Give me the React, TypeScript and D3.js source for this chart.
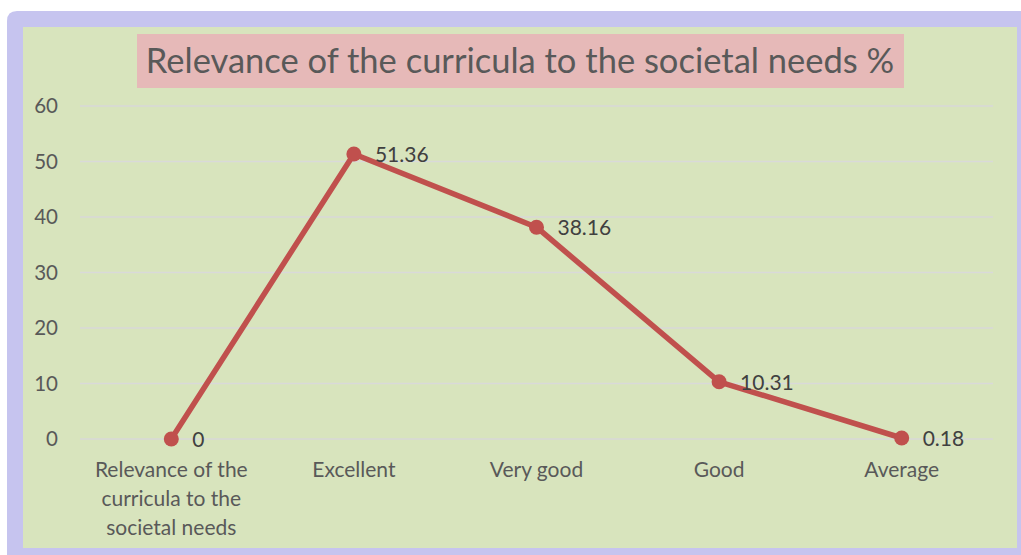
import React from "react";
import * as d3 from "d3";

const categories: string[][] = [
  ["Relevance of the", "curricula to the", "societal needs"],
  ["Excellent"],
  ["Very good"],
  ["Good"],
  ["Average"],
];
const values: number[] = [0, 51.36, 38.16, 10.31, 0.18];
const labels: string[] = ["0", "51.36", "38.16", "10.31", "0.18"];
const yTicks: number[] = [0, 10, 20, 30, 40, 50, 60];
const title = "Relevance of the curricula to the societal needs %";

export default function App() {
  const W = 1021, H = 555;
  const left = 80, right = 993, top = 106, bottom = 439;
  const x = d3.scaleBand<number>().domain(d3.range(values.length)).range([left, right]);
  const y = d3.scaleLinear().domain([0, 60]).range([bottom, top]);
  const line = d3.line<number>().x((_, i) => x(i)! + x.bandwidth() / 2).y((d) => y(d));
  const font = "Lato, 'Open Sans', sans-serif";
  return (
    <svg width={W} height={H} style={{ position: "absolute", left: 0, top: 0 }} fontFamily={font}>
      <path d={`M7,${H} V21 Q7,11 17,11 H${W} V${H} Z`} fill="#C6C4EF" />
      <rect x={23} y={27} width={994} height={521} fill="#D8E4BD" />
      <rect x={137} y={34} width={767} height={54} fill="#E6B9B8" />
      <text x={520} y={73} textAnchor="middle" fontSize={34.5} fill="#595959">{title}</text>
      {yTicks.map((t) => (
        <g key={t}>
          <line x1={left} x2={right} y1={y(t)} y2={y(t)} stroke="#D9D9D9" strokeWidth={1.5} />
          <text x={58} y={y(t) + 7} textAnchor="end" fontSize={20.5} fill="#595959">{t}</text>
        </g>
      ))}
      {categories.map((c, i) => (
        <text key={i} textAnchor="middle" fontSize={21} fill="#595959">
          {c.map((l, j) => (
            <tspan key={j} x={x(i)! + x.bandwidth() / 2} y={477 + j * 29}>{l}</tspan>
          ))}
        </text>
      ))}
      <path d={line(values)!} fill="none" stroke="#C0504D" strokeWidth={5.5} strokeLinejoin="round" />
      {values.map((v, i) => (
        <g key={i}>
          <circle cx={x(i)! + x.bandwidth() / 2} cy={y(v)} r={7.5} fill="#C0504D" />
          <text x={x(i)! + x.bandwidth() / 2 + 21} y={y(v) + 8} fontSize={21} fill="#404040">{labels[i]}</text>
        </g>
      ))}
    </svg>
  );
}
